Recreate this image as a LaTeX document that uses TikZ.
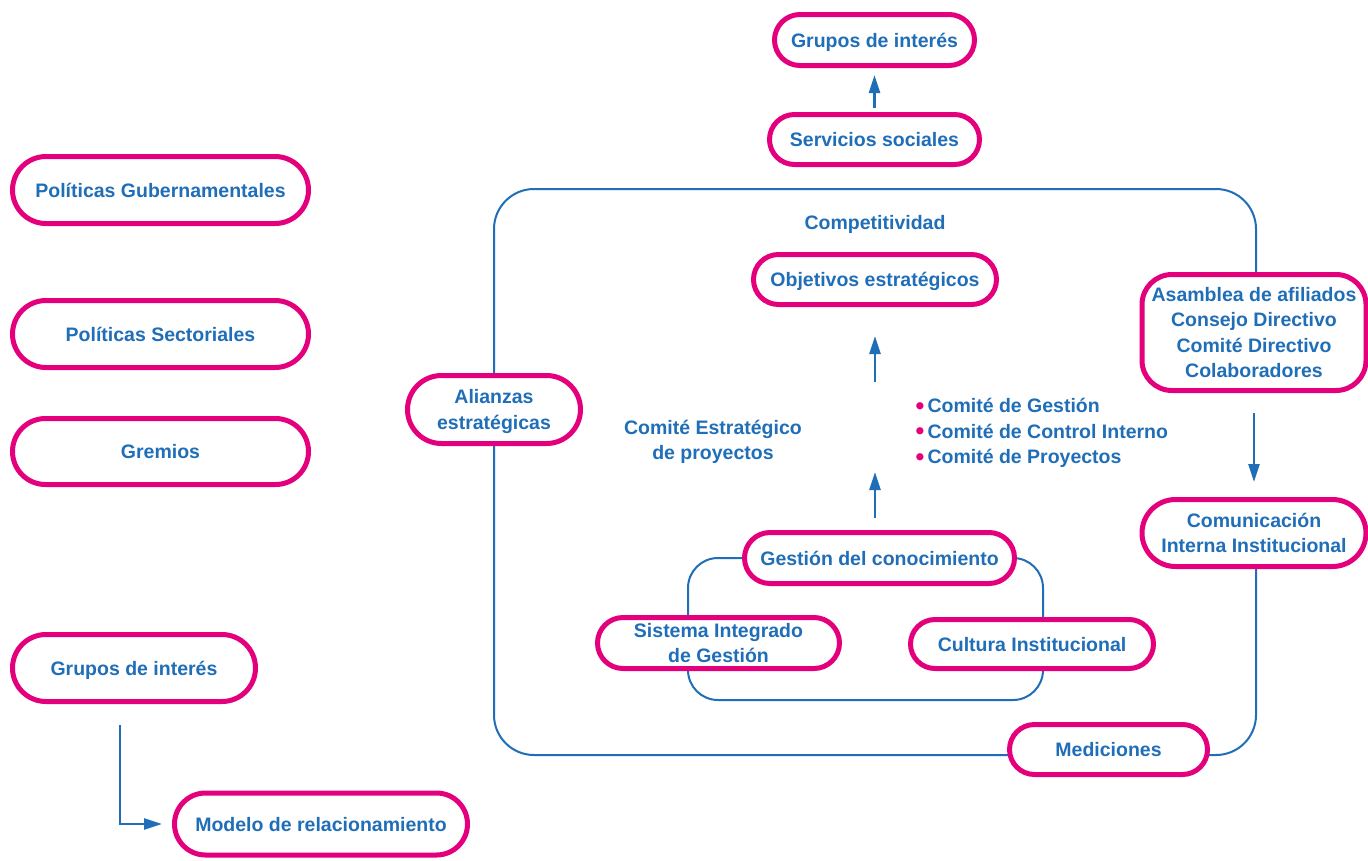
\documentclass[tikz,border=0pt]{standalone}
\usepackage{fontspec}
\setmainfont{Liberation Sans}
\usetikzlibrary{arrows.meta,shapes.misc}
\definecolor{tblue}{RGB}{31,110,183}
\definecolor{mag}{RGB}{228,0,124}
\newcommand{\mybul}{\textcolor{mag}{\raisebox{-1.2pt}{\fontsize{25}{25}\selectfont •}}\,}
\begin{document}
\begin{tikzpicture}[x=1pt,y=-1pt,
  txt/.style={text=tblue, font=\fontsize{19.5}{25.5}\selectfont\bfseries, align=center},
  pill/.style={txt, rounded rectangle, draw=mag, line width=5pt, fill=white, inner sep=0pt, text depth=0pt},
  rbox/.style={txt, rectangle, rounded corners=30pt, draw=mag, line width=5pt, fill=white, inner sep=0pt, text depth=0pt},
  conn/.style={draw=tblue, line width=2pt},
  arr/.style={draw=tblue, line width=2.6pt, -{Triangle[length=18pt,width=11pt]}}]
\useasboundingbox[fill=white] (0,0) rectangle (1368,860);

% frames
\draw[conn, rounded corners=40pt] (1256,300) -- (1256,189) -- (494,189) -- (494,755) -- (1256,755) -- (1256,540);
\draw[conn, rounded corners=30pt] (688,558) rectangle (1043,700);

% top
\node[pill, minimum width=200pt, minimum height=51pt] (gtop) at (874.5,40) {Grupos de interés};
\node[pill, minimum width=210pt, minimum height=50pt] (serv) at (874.5,139.5) {Servicios sociales};

% left column
\node[pill, minimum width=296pt, minimum height=67pt] (polg) at (160.5,190) {Políticas Gubernamentales};
\node[pill, minimum width=296pt, minimum height=67pt] (pols) at (160.5,334) {Políticas Sectoriales};
\node[pill, minimum width=296pt, minimum height=66pt] (grem) at (160.5,451.5) {Gremios};
\node[pill, minimum width=243pt, minimum height=67pt] (gleft) at (134,668) {Grupos de interés};
\node[pill, minimum width=293pt, minimum height=62pt] (modelo) at (321,824) {Modelo de relacionamiento};

% inside frame
\node[txt] (comp) at (875,224) {Competitividad};
\node[pill, minimum width=243pt, minimum height=50pt] (obj) at (875,279.5) {Objetivos estratégicos};
\node[pill, minimum width=173pt, minimum height=68pt] (alz) at (494,409.5) {Alianzas\\estratégicas};
\node[txt] (cep) at (713,442) {Comité Estratégico\\de proyectos};
\node[txt, align=left, anchor=north west] (comites) at (912,395) {\mybul Comité de Gestión\\\mybul Comité de Control Interno\\\mybul Comité de Proyectos};
\node[pill, minimum width=270pt, minimum height=51pt] (gest) at (879.5,558) {Gestión del conocimiento};
\node[pill, minimum width=242pt, minimum height=51pt] (sig) at (718.5,643) {Sistema Integrado\\de Gestión};
\node[pill, minimum width=243pt, minimum height=49pt] (cul) at (1032,644) {Cultura Institucional};

% right column
\node[rbox, minimum width=224pt, minimum height=116pt] (asam) at (1254,332.5) {Asamblea de afiliados\\Consejo Directivo\\Comité Directivo\\Colaboradores};
\node[pill, minimum width=224pt, minimum height=67pt] (com) at (1254,533) {Comunicación\\Interna Institucional};
\node[pill, minimum width=198pt, minimum height=50pt] (med) at (1108.5,749.5) {Mediciones};

% arrows
\coordinate (a1s) at (875,382);
\coordinate (a1e) at (875,336);
\coordinate (a2s) at (875,518);
\coordinate (a2e) at (875,472);
\draw[arr] (a1s) -- (a1e);
\draw[arr] (a2s) -- (a2e);
\draw[arr, shorten <=4pt, shorten >=7pt] (serv.north) -- (gtop.south);
\draw[arr, shorten <=20pt, shorten >=15pt] (asam.south) -- (com.north);
\draw[arr, shorten >=10pt] ([xshift=-14pt,yshift=-21pt]gleft.south) |- (modelo.west);
\end{tikzpicture}
\end{document}
